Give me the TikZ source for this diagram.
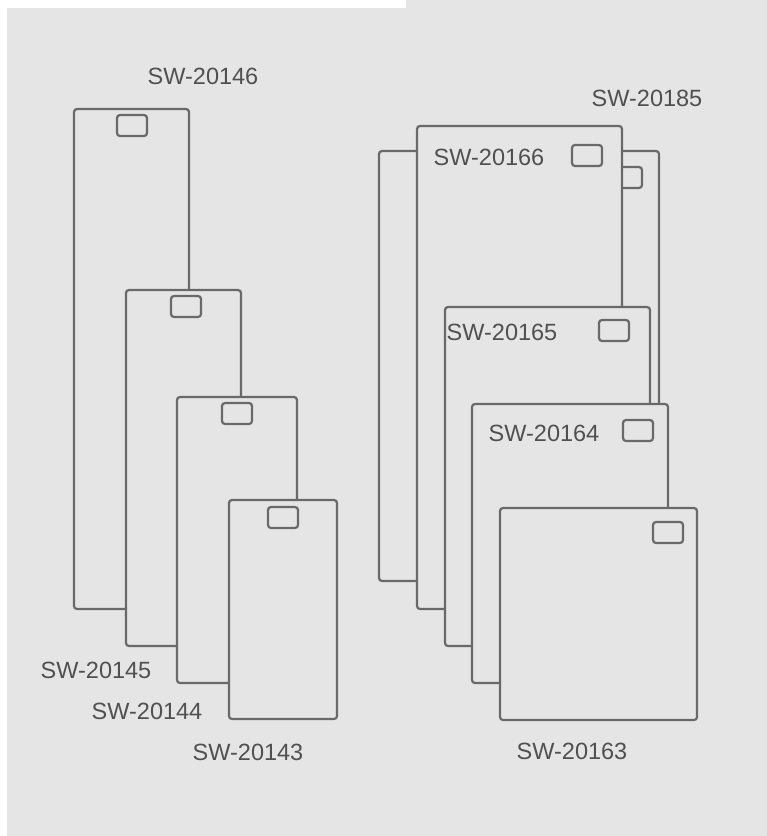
\documentclass[tikz,border=0pt]{standalone}
\usepackage{fontspec}
\setmainfont{Liberation Sans}
\definecolor{bggrey}{HTML}{E5E5E5}
\definecolor{linegrey}{HTML}{696969}
\definecolor{textgrey}{HTML}{505050}
\tikzset{
  unit/.style={draw=linegrey, fill=bggrey, line width=2.2pt, rounded corners=3pt,
    inner sep=0pt, outer sep=0pt, anchor=north west},
  tab/.style={draw=linegrey, fill=bggrey, line width=2.2pt, rounded corners=3pt,
    inner sep=0pt, outer sep=0pt, anchor=north west, minimum width=30pt, minimum height=21pt},
  lbl/.style={text=textgrey, inner sep=0pt, font=\fontsize{23.5}{28}\selectfont}
}
\begin{document}
\begin{tikzpicture}[x=1pt,y=-1pt]
\useasboundingbox (0,0) rectangle (767,836);
\fill[bggrey] (7,8) rectangle (767,836);
\fill[bggrey] (406,0) rectangle (767,8);
% left group
\node[unit, minimum width=115pt, minimum height=500pt] (u146) at (74,109) {};
\node[tab] (t146) at (117,115) {};
\node[unit, minimum width=115pt, minimum height=356pt] (u145) at (126,290) {};
\node[tab] (t145) at (171,296) {};
\node[unit, minimum width=120pt, minimum height=286pt] (u144) at (177,397) {};
\node[tab] (t144) at (222,403) {};
\node[unit, minimum width=108pt, minimum height=219pt] (u143) at (229,500) {};
\node[tab] (t143) at (268,507) {};
% right group
\node[unit, minimum width=280pt, minimum height=430pt] (u185) at (379,151) {};
\node[tab] (t185) at (612,167) {};
\node[unit, minimum width=205pt, minimum height=483pt] (u166) at (417,126) {};
\node[tab] (t166) at (572,145) {};
\node[unit, minimum width=205pt, minimum height=339pt] (u165) at (445,307) {};
\node[tab] (t165) at (599,320) {};
\node[unit, minimum width=196pt, minimum height=279pt] (u164) at (472,404) {};
\node[tab] (t164) at (623,420) {};
\node[unit, minimum width=197pt, minimum height=212pt] (u163) at (500,508) {};
\node[tab] (t163) at (653,522) {};
% labels
\node[lbl] (l146) at (203,76) {SW-20146};
\node[lbl] (l185) at (647,98) {SW-20185};
\node[lbl] (l145) at (96,670) {SW-20145};
\node[lbl] (l144) at (147,711) {SW-20144};
\node[lbl] (l143) at (248,752) {SW-20143};
\node[lbl] (l166) at (489,157) {SW-20166};
\node[lbl] (l165) at (502,332) {SW-20165};
\node[lbl] (l164) at (544,433) {SW-20164};
\node[lbl] (l163) at (572,751) {SW-20163};
\end{tikzpicture}
\end{document}
